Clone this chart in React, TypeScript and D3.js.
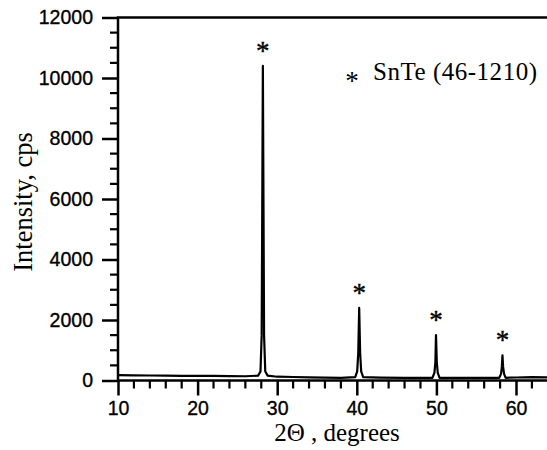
import React, { useEffect, useRef } from "react";
import * as d3 from "d3";

const theta = [
  10, 12, 14, 16, 18, 20, 22, 24, 26, 27.6, 27.9, 28.05, 28.2, 28.35, 28.5, 28.8,
  30, 32, 34, 36, 38, 39.8, 40.05, 40.18, 40.3, 40.42, 40.55, 40.8,
  43, 46, 49.5, 49.75, 49.87, 49.95, 50.05, 50.17, 50.4,
  52, 55, 57.9, 58.12, 58.22, 58.3, 58.38, 58.5, 58.7, 60, 62, 64,
];
const intensity = [
  180, 170, 165, 160, 155, 150, 150, 145, 140, 160, 300, 1500, 10400, 1500, 300, 160,
  125, 115, 105, 95, 90, 110, 300, 900, 2400, 900, 300, 110,
  95, 90, 90, 250, 600, 1500, 600, 250, 90,
  85, 85, 90, 220, 450, 830, 450, 220, 90, 100, 110, 100,
];

// peaks flagged with an asterisk: position and height
const peakTheta = [28.2, 40.3, 49.95, 58.3];
const peakHeight = [10400, 2400, 1500, 830];

const yTicks = [0, 2000, 4000, 6000, 8000, 10000, 12000];
const xTicks = [10, 20, 30, 40, 50, 60];

const legendLabel = "SnTe (46-1210)";

export default function App() {
  const ref = useRef<SVGSVGElement>(null);

  useEffect(() => {
    const width = 547;
    const height = 450;
    const margin = { top: 17.5, right: 0, bottom: 69.5, left: 118 };

    const svg = d3.select(ref.current);
    svg.selectAll("*").remove();

    const x = d3
      .scaleLinear()
      .domain([10, 10 + (width - margin.left) / 7.96])
      .range([margin.left, width - margin.right]);

    const y = d3
      .scaleLinear()
      .domain([0, 12000])
      .range([height - margin.bottom, margin.top]);

    const axisFont = "'Liberation Sans', Arial, sans-serif";
    const serif = "'Liberation Serif', 'Times New Roman', serif";

    // data trace
    const pts = theta.map((t, i) => [t, intensity[i]] as [number, number]);
    const line = d3
      .line<[number, number]>()
      .x((d) => x(d[0]))
      .y((d) => y(d[1]));

    svg
      .append("path")
      .datum(pts)
      .attr("fill", "none")
      .attr("stroke", "#000")
      .attr("stroke-width", 2.2)
      .attr("stroke-linejoin", "round")
      .attr("d", line);

    // minor ticks
    const yMinor = d3.range(0, 12001, 500).filter((v) => v % 2000 !== 0);
    svg
      .append("g")
      .selectAll("line")
      .data(yMinor)
      .join("line")
      .attr("x1", margin.left - 8)
      .attr("x2", margin.left)
      .attr("y1", (d) => y(d))
      .attr("y2", (d) => y(d))
      .attr("stroke", "#000")
      .attr("stroke-width", 2.2);

    const xMinor = d3.range(12, 64, 2).filter((v) => v % 10 !== 0);
    svg
      .append("g")
      .selectAll("line")
      .data(xMinor)
      .join("line")
      .attr("x1", (d) => x(d))
      .attr("x2", (d) => x(d))
      .attr("y1", y(0))
      .attr("y2", y(0) + 8)
      .attr("stroke", "#000")
      .attr("stroke-width", 2.2);

    // major ticks + labels
    const yAxis = svg
      .append("g")
      .attr("transform", `translate(${margin.left},0)`)
      .call(
        d3
          .axisLeft(y)
          .tickValues(yTicks)
          .tickSize(16)
          .tickPadding(9)
          .tickFormat(d3.format("d"))
      );
    const xAxis = svg
      .append("g")
      .attr("transform", `translate(0,${y(0)})`)
      .call(
        d3
          .axisBottom(x)
          .tickValues(xTicks)
          .tickSize(15)
          .tickPadding(6)
          .tickFormat(d3.format("d"))
      );
    [yAxis, xAxis].forEach((g) => {
      g.select(".domain").remove();
      g.attr("font-family", axisFont).attr("font-size", 19.5);
      g.selectAll("line").attr("stroke", "#000").attr("stroke-width", 2.5);
      // scanned labels look heavy, so thicken them a touch
      g.selectAll("text")
        .attr("fill", "#000")
        .attr("stroke", "#000")
        .attr("stroke-width", 0.35);
    });

    // frame: left axis, bottom axis, top line
    svg
      .append("path")
      .attr("d", `M${width},${y(12000)}H${margin.left}V${y(0)}H${width}`)
      .attr("fill", "none")
      .attr("stroke", "#000")
      .attr("stroke-width", 2.5);

    // asterisks over peaks
    svg
      .append("g")
      .selectAll("text")
      .data(peakTheta)
      .join("text")
      .attr("x", (d) => x(d))
      .attr("y", (d, i) => y(peakHeight[i]) - 6)
      .attr("text-anchor", "middle")
      .attr("stroke", "#000")
      .attr("stroke-width", 0.4)
      .style("font-family", serif)
      .style("font-size", "27px")
      .text("*");

    // legend
    svg
      .append("text")
      .attr("x", 352)
      .attr("y", 90)
      .attr("text-anchor", "middle")
      .style("font-family", serif)
      .style("font-size", "27px")
      .text("*");
    svg
      .append("text")
      .attr("x", 373)
      .attr("y", 80)
      .attr("textLength", 164)
      .style("font-family", serif)
      .style("font-size", "25px")
      .text(legendLabel);

    // axis titles
    svg
      .append("text")
      .attr("transform", `translate(32,202) rotate(-90)`)
      .attr("text-anchor", "middle")
      .style("font-family", serif)
      .style("font-size", "26.5px")
      .text("Intensity, cps");

    svg
      .append("text")
      .attr("x", 337)
      .attr("y", 441)
      .attr("text-anchor", "middle")
      .style("font-family", serif)
      .style("font-size", "25px")
      .text("2\u0398 , degrees");
  }, []);

  return (
    <svg
      ref={ref}
      width={547}
      height={450}
      style={{ position: "absolute", left: 0, top: 0, background: "#fff" }}
    />
  );
}
